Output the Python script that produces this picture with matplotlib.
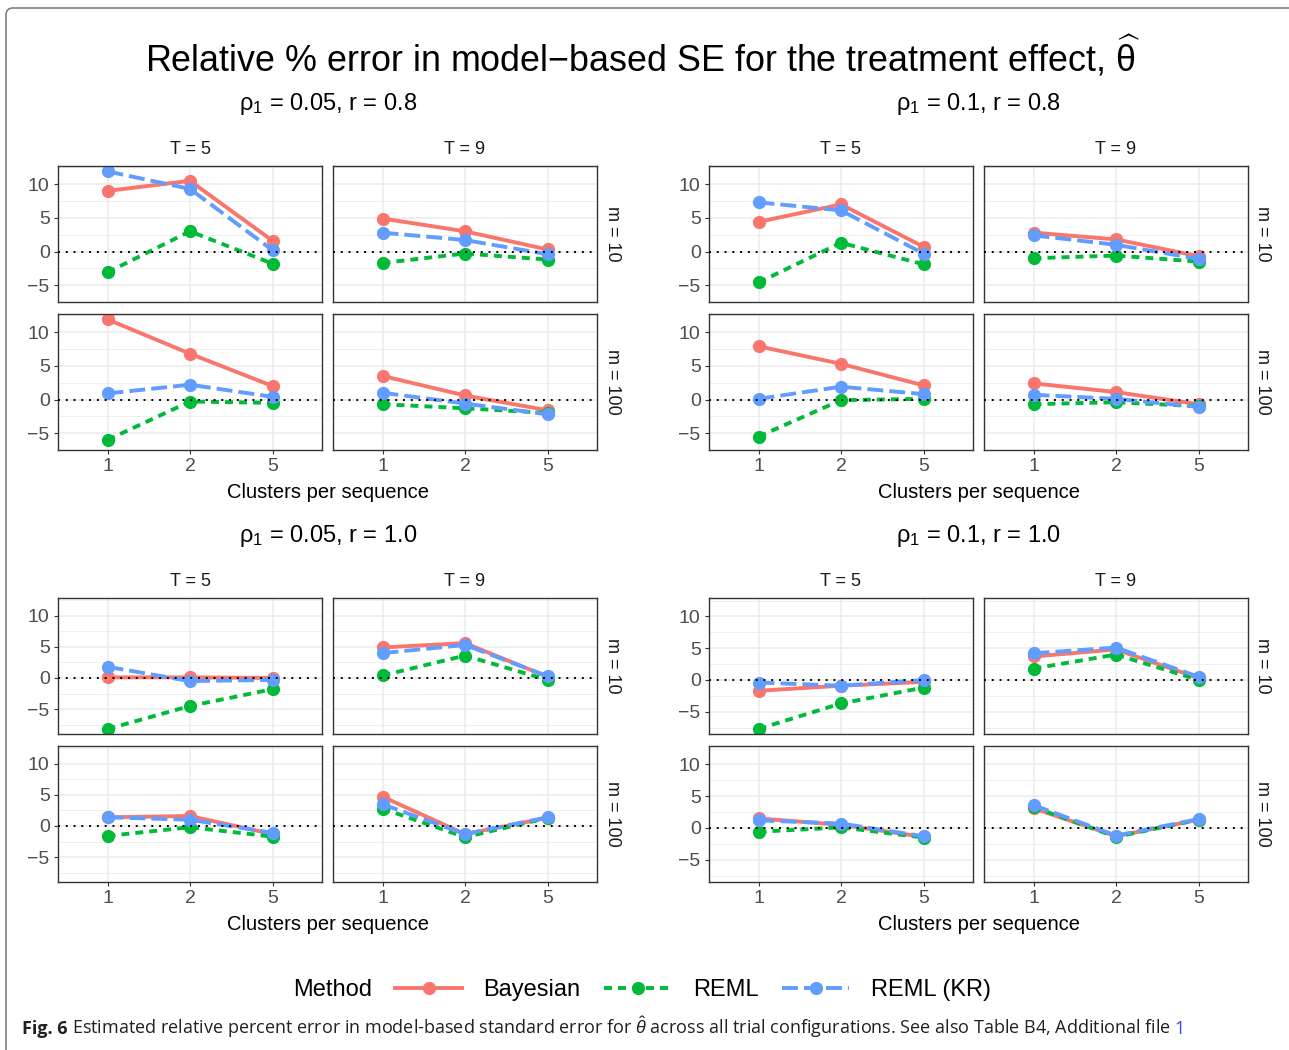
import matplotlib.pyplot as plt
from matplotlib.lines import Line2D
from matplotlib.patches import FancyBboxPatch
from matplotlib.transforms import IdentityTransform

plt.rcParams["font.family"] = ["Liberation Sans", "DejaVu Sans"]
plt.rcParams["mathtext.fontset"] = "custom"
plt.rcParams["mathtext.rm"] = "Liberation Sans"
plt.rcParams["mathtext.it"] = "Liberation Sans:italic"
plt.rcParams["mathtext.bf"] = "Liberation Sans:bold"

# x-axis categories and facet labels
clusters = ["1", "2", "5"]
periods = ["T = 5", "T = 9"]
sizes = ["m = 10", "m = 100"]
methods = ["Bayesian", "REML", "REML (KR)"]

# each list: [T5/m10, T9/m10, T5/m100, T9/m100], values per cluster count
bayes_a = [[9.0, 10.5, 1.6], [4.9, 3.0, 0.3], [11.9, 6.8, 2.0], [3.5, 0.6, -1.6]]
reml_a = [[-3.1, 3.0, -1.8], [-1.7, -0.3, -1.2], [-6.0, -0.3, -0.5], [-0.7, -1.3, -2.0]]
kr_a = [[11.9, 9.3, 0.2], [2.8, 1.7, -0.4], [0.9, 2.2, 0.4], [1.0, -0.6, -2.2]]

bayes_b = [[4.4, 7.0, 0.7], [2.8, 1.8, -0.7], [7.9, 5.3, 2.1], [2.4, 1.1, -0.7]]
reml_b = [[-4.6, 1.3, -1.9], [-1.0, -0.6, -1.5], [-5.5, -0.1, 0.1], [-0.7, -0.4, -1.0]]
kr_b = [[7.3, 6.1, -0.3], [2.4, 1.0, -1.1], [0.1, 1.9, 0.8], [0.7, 0.1, -1.1]]

bayes_c = [[0.1, 0.1, 0.0], [4.9, 5.6, 0.2], [1.4, 1.6, -1.3], [4.7, -1.3, 1.3]]
reml_c = [[-8.2, -4.5, -1.8], [0.4, 3.6, -0.3], [-1.6, -0.2, -1.7], [2.8, -1.8, 1.3]]
kr_c = [[1.8, -0.5, -0.3], [4.0, 5.3, 0.3], [1.4, 1.0, -1.1], [3.5, -1.3, 1.4]]

bayes_d = [[-1.7, -0.9, -0.3], [3.7, 4.8, 0.3], [1.5, 0.5, -1.4], [3.1, -1.3, 1.3]]
reml_d = [[-7.7, -3.7, -1.2], [1.8, 4.0, 0.0], [-0.6, 0.1, -1.5], [3.3, -1.4, 1.3]]
kr_d = [[-0.4, -0.9, 0.0], [4.2, 5.1, 0.5], [1.2, 0.7, -1.3], [3.6, -1.2, 1.4]]

block_titles = ["ρ$_1$ = 0.05, r = 0.8", "ρ$_1$ = 0.1, r = 0.8",
                "ρ$_1$ = 0.05, r = 1.0", "ρ$_1$ = 0.1, r = 1.0"]
block_ylims = [(-6.8, 12.7), (-6.4, 12.7), (-9.0, 12.85), (-8.5, 12.9)]

colors = ["#F8766D", "#00BA38", "#619CFF"]
dashes = [None, (2.05, 1.55), (4.1, 1.55)]
LW, MS = 2.8, 8.5

W, H = 1289, 1050
fig = plt.figure(figsize=(W / 100, H / 100), dpi=100)


def fig_rect(x0, y0, x1, y1):
    # pixel box (top-left origin) -> figure fraction rect
    return [x0 / W, 1 - y1 / H, (x1 - x0) / W, (y1 - y0) / H]


def draw_block(bx, by, title, ylim, series):
    col_x = [(0, 264), (275, 539)]
    row_y = [(0, 136), (148, 284)]
    for r, (ry0, ry1) in enumerate(row_y):
        for c, (cx0, cx1) in enumerate(col_x):
            ax = fig.add_axes(fig_rect(bx + cx0, by + ry0, bx + cx1, by + ry1))
            k = r * 2 + c
            for i, vals in enumerate(series):
                line, = ax.plot([1, 2, 3], vals[k], color=colors[i], lw=LW,
                                marker="o", ms=MS, zorder=2 + i * 0.1)
                if dashes[i]:
                    line.set_dashes(dashes[i])
            ax.axhline(0, color="black", lw=1.4, ls=(0, (1, 3)), zorder=3)
            ax.set_xlim(0.4, 3.6)
            ax.set_ylim(*ylim)
            ax.set_xticks([1, 2, 3], clusters)
            ax.set_yticks([-5, 0, 5, 10])
            ax.set_yticks([-7.5, -2.5, 2.5, 7.5, 12.5], minor=True)
            ax.grid(which="major", color="#EBEBEB", lw=1.1, zorder=0)
            ax.grid(which="minor", axis="y", color="#EBEBEB", lw=0.55, zorder=0)
            ax.set_axisbelow(True)
            for s in ax.spines.values():
                s.set_color("#333333")
                s.set_linewidth(1.0)
            ax.tick_params(which="major", length=3, width=0.8, color="#333333",
                           labelsize=14, labelcolor="#4D4D4D", pad=3)
            ax.tick_params(which="minor", length=0)
            ax.tick_params(left=(c == 0), labelleft=(c == 0),
                           bottom=(r == 1), labelbottom=(r == 1))
            if r == 0:
                ax.text(0.5, 1 + 17 / 136, periods[c], transform=ax.transAxes,
                        ha="center", va="center", fontsize=13, color="#1A1A1A")
            if c == 1:
                ax.text(1 + 15 / 264, 0.5, sizes[r], transform=ax.transAxes,
                        ha="center", va="center", rotation=-90, fontsize=13,
                        color="#1A1A1A")
    fig.text((bx + 270) / W, 1 - (by - 56) / H, title, ha="center",
             va="baseline", fontsize=17)
    fig.text((bx + 270) / W, 1 - (by + 326) / H, "Clusters per sequence",
             ha="center", va="center", fontsize=14.5)


draw_block(58, 166, block_titles[0], block_ylims[0], [bayes_a, reml_a, kr_a])
draw_block(709, 166, block_titles[1], block_ylims[1], [bayes_b, reml_b, kr_b])
draw_block(58, 598, block_titles[2], block_ylims[2], [bayes_c, reml_c, kr_c])
draw_block(709, 598, block_titles[3], block_ylims[3], [bayes_d, reml_d, kr_d])

fig.text(643 / W, 1 - 72 / H,
         r"Relative % error in model−based SE for the treatment effect, $\widehat{\mathrm{\theta}}$",
         ha="center", va="baseline", fontsize=25.8)

# legend along the bottom
handles = []
for i, name in enumerate(methods):
    h = Line2D([], [], color=colors[i], lw=LW, marker="o", ms=MS)
    if dashes[i]:
        h.set_dashes(dashes[i])
    handles.append(h)
fig.text(293 / W, 1 - 990 / H, "Method", ha="left", va="center", fontsize=17)
fig.legend(handles, methods, loc="center left", bbox_to_anchor=(395 / W, 1 - 990 / H),
           ncol=3, frameon=False, fontsize=17, numpoints=1, handlelength=2.85,
           handletextpad=0.9, columnspacing=1.0, borderpad=0, borderaxespad=0)

# caption line
renderer = fig.canvas.get_renderer()
cap_y = 1 - 1034 / H
cap_font = ["Open Sans", "DejaVu Sans"]
t1 = fig.text(22 / W, cap_y, "Fig. 6", family=cap_font, weight="bold",
              fontsize=13, va="baseline", color="#231F20")
x = t1.get_window_extent(renderer).x1 + 4
t2 = fig.text(x / W, cap_y,
              r"Estimated relative percent error in model-based standard error for $\hat{\theta}$"
              r" across all trial configurations. See also Table B4, Additional file",
              family=cap_font, fontsize=13, va="baseline", color="#231F20")
x = t2.get_window_extent(renderer).x1 + 4
fig.text(x / W, cap_y, "1", family=cap_font, fontsize=13, va="baseline",
         color="#3B3BF0")

# rounded page frame
frame = FancyBboxPatch((6, -20), 1300, 1062,
                       boxstyle="round,pad=0,rounding_size=7",
                       transform=IdentityTransform(), fill=False,
                       edgecolor="#808080", lw=1.2)
fig.add_artist(frame)

fig.savefig("out.png", dpi=100)
